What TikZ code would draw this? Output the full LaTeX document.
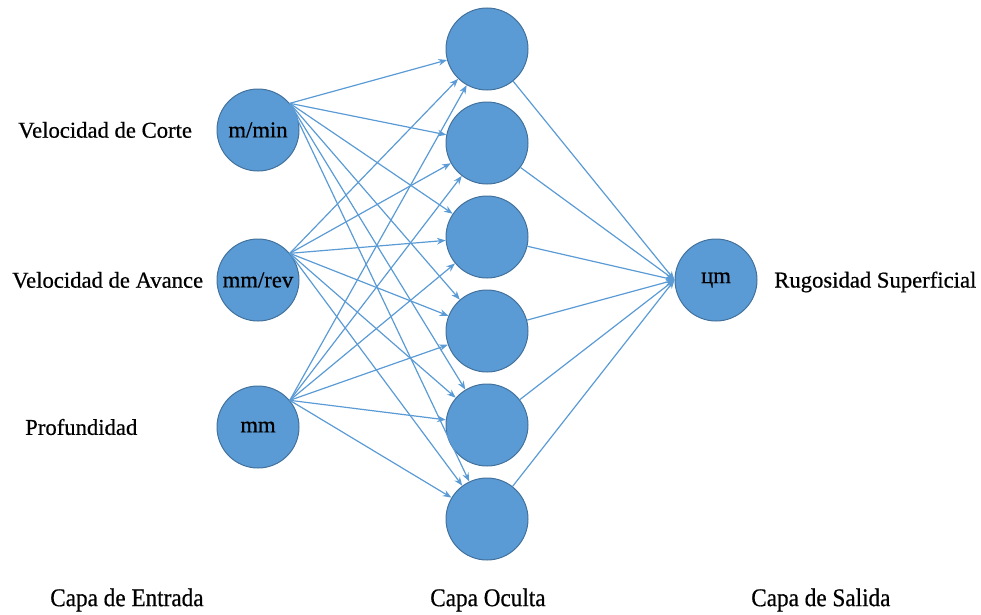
\documentclass[tikz,border=0pt]{standalone}
\usepackage{fontspec}
\setmainfont{Liberation Serif}
\newfontfamily\labelfont[FakeBold=0.6]{Liberation Serif}
\usetikzlibrary{arrows.meta}
\definecolor{neuronfill}{HTML}{5B9BD5}
\definecolor{neuronedge}{HTML}{41719C}
\definecolor{linkcol}{HTML}{5B9BD5}
\begin{document}
\begin{tikzpicture}[x=0.75pt,y=-0.75pt,
  neuron/.style={circle,fill=neuronfill,draw=neuronedge,line width=0.75pt,
    minimum size=61.5pt,inner sep=0pt,font=\labelfont\fontsize{17}{20}\selectfont},
  label/.style={inner sep=0pt,font=\labelfont\fontsize{17}{20}\selectfont},
  layer/.style={inner sep=0pt,yscale=1.1,font=\labelfont\fontsize{17.4}{20}\selectfont},
  link/.style={draw=linkcol,line width=0.9pt,-{Stealth[length=6.5pt,width=5pt]}}]
\useasboundingbox (0,0) rectangle (981,614);

% input layer
\node[neuron] (i1) at (258,130) {m/min};
\node[neuron] (i2) at (258,280) {mm/rev};
\node[neuron] (i3) at (258,427) {mm};

% hidden layer
\foreach \k/\yy in {1/49,2/143,3/237,4/331,5/425,6/519}
  \node[neuron] (h\k) at (487,\yy) {};

% output layer
\node[neuron] (o) at (716,280) {цm};

% labels
\node[label,anchor=west] (t1) at (18,130) {Velocidad de Corte};
\node[label,anchor=west] (t2) at (12,280) {Velocidad de Avance};
\node[label,anchor=west] (t3) at (25,427) {Profundidad};
\node[label,anchor=west] (t4) at (774,282) {Rugosidad Superficial};

\node[layer,anchor=west] (l1) at (50,600) {Capa de Entrada};
\node[layer,anchor=west] (l2) at (430,600) {Capa Oculta};
\node[layer,anchor=west] (l3) at (751,600) {Capa de Salida};

% connections input -> hidden
\foreach \a in {1,2,3}
  \foreach \b in {1,...,6}
    \draw[link] (i\a.40) -- (h\b);

% connections hidden -> output
\foreach \b in {1,...,6}
  \draw[link] (h\b) -- (o.west);
\end{tikzpicture}
\end{document}
